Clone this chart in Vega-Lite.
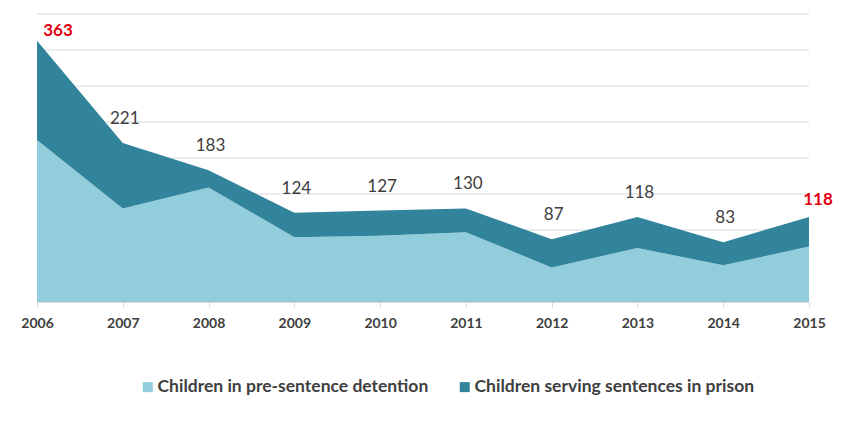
{
  "$schema": "https://vega.github.io/schema/vega-lite/v6.json",
  "width": 772,
  "height": 288,
  "autosize": {"type": "none"},
  "padding": {"left": 37, "top": 14, "right": 33, "bottom": 119},
  "background": "white",
  "config": {
    "font": "Lato",
    "view": {"stroke": null},
    "axis": {"labelFont": "Lato", "titleFont": "Lato"},
    "legend": {"labelFont": "Lato"}
  },
  "datasets": {
    "main": [
      {"year": "2006", "series": "Children in pre-sentence detention", "count": 225},
      {"year": "2006", "series": "Children serving sentences in prison", "count": 138},
      {"year": "2007", "series": "Children in pre-sentence detention", "count": 130},
      {"year": "2007", "series": "Children serving sentences in prison", "count": 91},
      {"year": "2008", "series": "Children in pre-sentence detention", "count": 159},
      {"year": "2008", "series": "Children serving sentences in prison", "count": 24},
      {"year": "2009", "series": "Children in pre-sentence detention", "count": 90},
      {"year": "2009", "series": "Children serving sentences in prison", "count": 34},
      {"year": "2010", "series": "Children in pre-sentence detention", "count": 92},
      {"year": "2010", "series": "Children serving sentences in prison", "count": 35},
      {"year": "2011", "series": "Children in pre-sentence detention", "count": 97},
      {"year": "2011", "series": "Children serving sentences in prison", "count": 33},
      {"year": "2012", "series": "Children in pre-sentence detention", "count": 48},
      {"year": "2012", "series": "Children serving sentences in prison", "count": 39},
      {"year": "2013", "series": "Children in pre-sentence detention", "count": 75},
      {"year": "2013", "series": "Children serving sentences in prison", "count": 43},
      {"year": "2014", "series": "Children in pre-sentence detention", "count": 51},
      {"year": "2014", "series": "Children serving sentences in prison", "count": 32},
      {"year": "2015", "series": "Children in pre-sentence detention", "count": 77},
      {"year": "2015", "series": "Children serving sentences in prison", "count": 41}
    ],
    "grid": [
      {"g": 50}, {"g": 100}, {"g": 150}, {"g": 200}, {"g": 250}, {"g": 300}, {"g": 350}, {"g": 400}
    ]
  },
  "layer": [
    {
      "data": {"name": "grid"},
      "mark": {"type": "rule", "color": "#d9d9d9", "strokeWidth": 1},
      "encoding": {
        "y": {"field": "g", "type": "quantitative", "scale": {"domain": [0, 400], "nice": false}, "axis": null}
      }
    },
    {
      "data": {"name": "main"},
      "mark": {"type": "area", "opacity": 1},
      "encoding": {
        "x": {
          "field": "year",
          "type": "ordinal",
          "scale": {"padding": 0},
          "axis": {
            "title": null,
            "labelAngle": 0,
            "labelFontSize": 14,
            "labelFontWeight": "bold",
            "labelColor": "#404040",
            "labelPadding": 9,
            "domainColor": "#d9d9d9",
            "tickColor": "#d9d9d9",
            "tickSize": 5,
            "grid": false
          }
        },
        "y": {
          "field": "count",
          "type": "quantitative",
          "stack": "zero",
          "axis": null
        },
        "color": {
          "field": "series",
          "type": "nominal",
          "scale": {
            "domain": ["Children in pre-sentence detention", "Children serving sentences in prison"],
            "range": ["#92CDDC", "#31849B"]
          },
          "legend": {
            "title": null,
            "orient": "none",
            "legendX": 102,
            "legendY": 364,
            "padding": 0,
            "direction": "horizontal",
            "symbolType": "square",
            "symbolSize": 100,
            "symbolStrokeWidth": 0,
            "labelFontSize": 17.5,
            "labelLimit": 400,
            "labelOffset": 1,
            "labelColor": "#404040",
            "labelFontWeight": "bold",
            "columnPadding": 27
          }
        },
        "order": {"field": "series", "sort": "ascending"}
      }
    },
    {
      "data": {"name": "main"},
      "transform": [
        {"aggregate": [{"op": "sum", "field": "count", "as": "total"}], "groupby": ["year"]},
        {"filter": "datum.year != '2006' && datum.year != '2015'"}
      ],
      "mark": {"type": "text", "dy": -24, "dx": 2, "fontSize": 17, "color": "#404040"},
      "encoding": {
        "x": {"field": "year", "type": "ordinal"},
        "y": {"field": "total", "type": "quantitative", "axis": null},
        "text": {"field": "total", "type": "quantitative"}
      }
    },
    {
      "data": {"name": "main"},
      "transform": [
        {"aggregate": [{"op": "sum", "field": "count", "as": "total"}], "groupby": ["year"]},
        {"filter": "datum.year == '2006'"}
      ],
      "mark": {"type": "text", "dy": -10, "dx": 21, "fontSize": 17, "fontWeight": "bold", "color": "#E3000F"},
      "encoding": {
        "x": {"field": "year", "type": "ordinal"},
        "y": {"field": "total", "type": "quantitative", "axis": null},
        "text": {"field": "total", "type": "quantitative"}
      }
    },
    {
      "data": {"name": "main"},
      "transform": [
        {"aggregate": [{"op": "sum", "field": "count", "as": "total"}], "groupby": ["year"]},
        {"filter": "datum.year == '2015'"}
      ],
      "mark": {"type": "text", "dy": -17, "dx": 9, "fontSize": 17, "fontWeight": "bold", "color": "#E3000F"},
      "encoding": {
        "x": {"field": "year", "type": "ordinal"},
        "y": {"field": "total", "type": "quantitative", "axis": null},
        "text": {"field": "total", "type": "quantitative"}
      }
    }
  ]
}
